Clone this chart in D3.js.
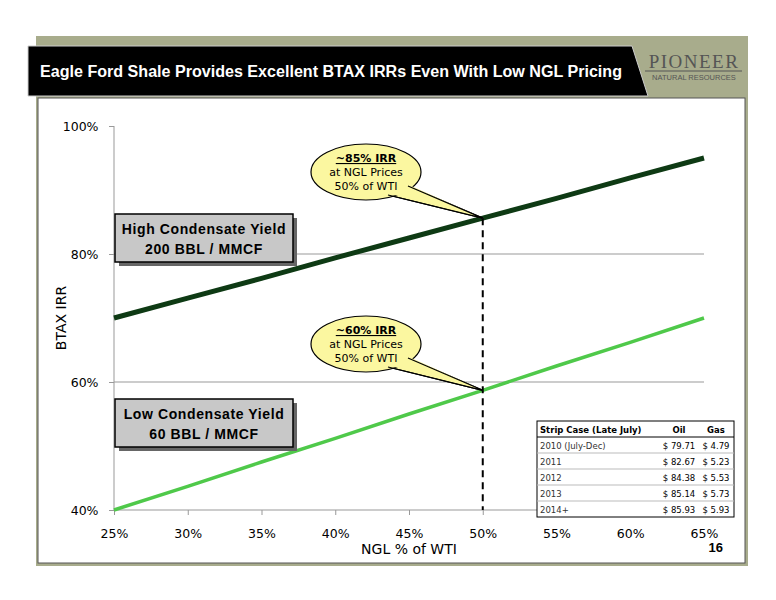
<!DOCTYPE html><html><head><script src="https://d3js.org/d3.v7.min.js"></script>
<style>body{margin:0;background:#fff}</style></head><body><svg id="c" width="776" height="600"></svg>
<script>
const xTicks=[0.25,0.30,0.35,0.40,0.45,0.50,0.55,0.60,0.65];
const yTicks=[0.40,0.60,0.80,1.00];
const ngl=[0.25,0.30,0.35,0.40,0.45,0.50,0.55,0.60,0.65];
const highIRR=[0.70,0.731,0.762,0.794,0.825,0.856,0.887,0.919,0.950];
const lowIRR=[0.40,0.437,0.475,0.512,0.550,0.587,0.625,0.662,0.700];
const tableHead=["Strip Case (Late July)","Oil","Gas"];
const tableRows=[["2010 (July-Dec)","$ 79.71","$ 4.79"],["2011","$ 82.67","$ 5.23"],["2012","$ 84.38","$ 5.53"],["2013","$ 85.14","$ 5.73"],["2014+","$ 85.93","$ 5.93"]];
const svg=d3.select("#c");
svg.append("rect").attr("x",36).attr("y",36).attr("width",712).attr("height",530).attr("fill","#a8ac8c");
svg.append("rect").attr("x",38).attr("y",98).attr("width",707).attr("height",465).attr("fill","#fff").attr("stroke","#555");
svg.append("path").attr("d","M28,46 L632,46 L648,96 L28,96 Z").attr("fill","#000").attr("stroke","#ccc");
svg.append("text").attr("x",40).attr("y",77).attr("fill","#fff").attr("font-family","Liberation Sans, Arial").attr("font-weight","bold").attr("font-size",16).attr("textLength",582).attr("lengthAdjust","spacingAndGlyphs").text("Eagle Ford Shale Provides Excellent BTAX IRRs Even With Low NGL Pricing");
svg.append("text").attr("x",694).attr("y",68).attr("text-anchor","middle").attr("fill","#555").attr("font-family","Liberation Serif, serif").attr("font-size",19).attr("letter-spacing",1.5).text("PIONEER");
svg.append("line").attr("x1",645).attr("x2",742).attr("y1",71).attr("y2",71).attr("stroke","#555");
svg.append("text").attr("x",694).attr("y",80).attr("text-anchor","middle").attr("fill","#555").attr("font-family","Liberation Sans, Arial").attr("font-size",7.5).text("NATURAL RESOURCES");
const x=d3.scaleLinear().domain([0.25,0.65]).range([114,704]);
const y=d3.scaleLinear().domain([0.40,1.00]).range([510,126]);
const g=svg.append("g").attr("font-family","DejaVu Sans, Verdana");
g.selectAll(".gl").data([0.6,0.8]).join("line").attr("x1",114).attr("x2",704).attr("y1",y).attr("y2",y).attr("stroke","#999");
g.append("line").attr("x1",114).attr("x2",114).attr("y1",126).attr("y2",510).attr("stroke","#999");
g.append("line").attr("x1",114).attr("x2",704).attr("y1",510).attr("y2",510).attr("stroke","#999");
const xa=g.append("g").attr("transform","translate(0,510)").call(d3.axisBottom(x).tickValues(xTicks).tickFormat(d3.format(".0%")).tickSize(5));
xa.select(".domain").remove();xa.selectAll("line").attr("stroke","#999");xa.selectAll("text").attr("font-size",12.5).attr("font-family","DejaVu Sans, Verdana").attr("fill","#000").attr("dy","1.6em");
const ya=g.append("g").attr("transform","translate(114,0)").call(d3.axisLeft(y).tickValues(yTicks).tickFormat(d3.format(".0%")).tickSize(5));
ya.select(".domain").remove();ya.selectAll("line").attr("stroke","#999");ya.selectAll("text").attr("font-size",12.5).attr("font-family","DejaVu Sans, Verdana").attr("fill","#000").attr("dx","-0.6em");
g.append("text").attr("x",409).attr("y",554).attr("text-anchor","middle").attr("font-size",14).text("NGL % of WTI");
g.append("text").attr("transform","translate(66,318) rotate(-90)").attr("text-anchor","middle").attr("font-size",14).text("BTAX IRR");
const line=d3.line().x((d,i)=>x(ngl[i])).y(d=>y(d));
g.append("path").attr("d",line(highIRR)).attr("fill","none").attr("stroke","#0e3a14").attr("stroke-width",5);
g.append("path").attr("d",line(lowIRR)).attr("fill","none").attr("stroke","#4fc94a").attr("stroke-width",3.5);
g.append("line").attr("x1",x(0.5)).attr("x2",x(0.5)).attr("y1",y(highIRR[5])).attr("y2",510).attr("stroke","#000").attr("stroke-width",2).attr("stroke-dasharray","7,5");
function callout(cx,cy,px,py,lines){
  const rx=55,ry=28;
  const c=g.append("g");
  const tail=`M${cx+22},${cy+ry-5} L${px},${py} L${cx+42},${cy+ry-14}`;
  c.append("path").attr("d",tail).attr("fill","#fbf7a0").attr("stroke","#000").attr("stroke-width",1.2);
  c.append("ellipse").attr("cx",cx).attr("cy",cy).attr("rx",rx).attr("ry",ry).attr("fill","#fbf7a0").attr("stroke","#000").attr("stroke-width",1.2);
  c.append("path").attr("d",`M${cx+21},${cy+ry-7} L${px},${py} L${cx+41},${cy+ry-16}`).attr("fill","#fbf7a0");
  c.append("path").attr("d",tail).attr("fill","none").attr("stroke","#000").attr("stroke-width",1.2);
  lines.forEach((t,i)=>c.append("text").attr("x",cx).attr("y",cy-10+i*14).attr("text-anchor","middle").attr("font-size",11).attr("text-decoration",i==0?"underline":null).attr("font-weight",i==0?"bold":null).text(t));
}
callout(366,172,x(0.5),y(highIRR[5]),["~85% IRR","at NGL Prices","50% of WTI"]);
callout(366,344,x(0.5),y(lowIRR[5]),["~60% IRR","at NGL Prices","50% of WTI"]);
function box(bx,by,l1,l2){
  g.append("rect").attr("x",bx+4).attr("y",by+4).attr("width",178).attr("height",48).attr("fill","#666");
  g.append("rect").attr("x",bx).attr("y",by).attr("width",178).attr("height",48).attr("fill","#c8c8c8").attr("stroke","#000").attr("stroke-width",1.5);
  g.append("text").attr("x",bx+89).attr("y",by+20).attr("text-anchor","middle").attr("font-size",14).attr("font-weight","bold").attr("font-family","Liberation Sans, Arial").attr("letter-spacing",0.6).text(l1);
  g.append("text").attr("x",bx+89).attr("y",by+40).attr("text-anchor","middle").attr("font-size",14).attr("font-weight","bold").attr("font-family","Liberation Sans, Arial").attr("letter-spacing",0.6).text(l2);
}
box(115,214,"High Condensate Yield","200 BBL / MMCF");
box(115,399,"Low Condensate Yield","60 BBL / MMCF");
const tx=537,ty=421,tw=197,rh=16;
g.append("rect").attr("x",tx).attr("y",ty).attr("width",tw).attr("height",rh*6).attr("fill","#fff").attr("stroke","#000");
g.append("line").attr("x1",tx).attr("x2",tx+tw).attr("y1",ty+rh).attr("y2",ty+rh).attr("stroke","#000");
const cols=[[tx+3,"start"],[tx+142,"middle"],[tx+179,"middle"]];
tableHead.forEach((t,i)=>g.append("text").attr("x",cols[i][0]).attr("y",ty+12).attr("text-anchor",cols[i][1]).attr("font-size",8.5).attr("font-weight","bold").text(t));
tableRows.forEach((r,j)=>{
  if(j>0)g.append("line").attr("x1",tx).attr("x2",tx+tw).attr("y1",ty+rh*(j+1)).attr("y2",ty+rh*(j+1)).attr("stroke","#bbb");
  r.forEach((t,i)=>g.append("text").attr("x",cols[i][0]).attr("y",ty+rh*(j+1)+12).attr("text-anchor",cols[i][1]).attr("font-size",8.5).attr("fill",i==0?"#333":"#000").text(t));
});
g.append("text").attr("x",723).attr("y",552).attr("text-anchor","end").attr("font-size",13).attr("font-weight","bold").attr("font-family","Liberation Sans, Arial").text("16");
</script></body></html>
